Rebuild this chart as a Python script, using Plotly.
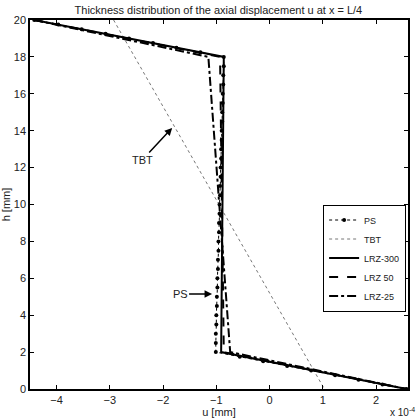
import plotly.graph_objects as go

# u values in units of 1e-4 mm, h in mm
ps_h = [20, 19.75, 19.5, 19.25, 19, 18.75, 18.5, 18.25, 18,
        17.5, 17, 16.5, 16, 15.5, 15, 14.5, 14, 13.5, 13, 12.5, 12, 11.5, 11, 10.5, 10,
        9.5, 9, 8.5, 8, 7.5, 7, 6.5, 6, 5.5, 5, 4.5, 4, 3.5, 3, 2.5, 2,
        1.75, 1.5, 1.25, 1, 0.75, 0.5, 0.25, 0]
ps_u = [-4.42, -3.97, -3.53, -3.08, -2.64, -2.19, -1.75, -1.30, -0.86,
        -0.86, -0.87, -0.87, -0.88, -0.88, -0.89, -0.89, -0.90, -0.90, -0.91, -0.91, -0.92, -0.92, -0.93, -0.93, -0.94,
        -0.94, -0.95, -0.95, -0.96, -0.96, -0.97, -0.97, -0.98, -0.98, -0.99, -0.99, -1.00, -1.00, -1.01, -1.01, -1.01,
        -0.56, -0.12, 0.33, 0.78, 1.23, 1.67, 2.12, 2.57]

tbt_h = [20, 0]
tbt_u = [-2.93, 1.03]

lrz_h = [20, 18, 2, 0]
lrz300_u = [-4.42, -0.86, -0.91, 2.57]
lrz50_u = [-4.42, -0.93, -0.86, 2.57]
lrz25_u = [-4.42, -1.15, -0.74, 2.57]

fig = go.Figure()
fig.add_trace(go.Scatter(x=ps_u, y=ps_h, name='PS', mode='lines+markers',
                         line=dict(color='black', width=1, dash='dot'),
                         marker=dict(color='black', size=4, symbol='circle')))
fig.add_trace(go.Scatter(x=tbt_u, y=tbt_h, name='TBT', mode='lines',
                         line=dict(color='#777777', width=1, dash='dot')))
fig.add_trace(go.Scatter(x=lrz300_u, y=lrz_h, name='LRZ-300', mode='lines',
                         line=dict(color='black', width=2)))
fig.add_trace(go.Scatter(x=lrz50_u, y=lrz_h, name='LRZ 50', mode='lines',
                         line=dict(color='black', width=2, dash='dash')))
fig.add_trace(go.Scatter(x=lrz25_u, y=lrz_h, name='LRZ-25', mode='lines',
                         line=dict(color='black', width=2, dash='dashdot')))

fig.update_layout(
    width=420, height=420,
    paper_bgcolor='white', plot_bgcolor='white',
    font=dict(family='Liberation Sans, Arial, sans-serif', size=11, color='#222'),
    margin=dict(l=30, r=12, t=20, b=31),
    title=dict(text='Thickness distribution of the axial displacement u at x = L/4',
               x=0.52, xanchor='center', y=0.976, yanchor='middle', yref='container',
               font=dict(size=11, color='#222')),
    showlegend=True,
    legend=dict(x=0.995, xanchor='right', y=0.5, yanchor='top',
                bgcolor='white', bordercolor='black', borderwidth=1,
                font=dict(size=9), tracegroupgap=0, itemwidth=30),
    annotations=[
        dict(x=-1.83, y=14.15, text='TBT', showarrow=True, ax=-30, ay=32,
             arrowhead=2, arrowsize=1, arrowwidth=1.5, arrowcolor='black',
             font=dict(size=11)),
        dict(x=-1.08, y=5.15, text='PS', showarrow=True, ax=-32, ay=0,
             arrowhead=2, arrowsize=1, arrowwidth=1.5, arrowcolor='black',
             font=dict(size=11)),
        dict(x=1.025, y=-0.084, xref='paper', yref='paper', xanchor='right', yanchor='bottom',
             text='x 10<sup>-4</sup>', showarrow=False, font=dict(size=10)),
    ],
)
fig.update_xaxes(range=[-4.5, 2.6], tickvals=[-4, -3, -2, -1, 0, 1, 2], automargin=False,
                 showline=True, linecolor='black', linewidth=1.5, mirror='ticks',
                 ticks='inside', ticklen=4, tickcolor='black', showgrid=False, zeroline=False,
                 title=dict(text='u [mm]', standoff=2, font=dict(size=11)))
fig.update_yaxes(range=[0, 20], tickvals=list(range(0, 21, 2)), automargin=False,
                 showline=True, linecolor='black', linewidth=1.5, mirror='ticks',
                 ticks='inside', ticklen=4, tickcolor='black', showgrid=False, zeroline=False,
                 title=dict(text='h [mm]', standoff=2, font=dict(size=11)))

fig.write_html("out.html", config={'displayModeBar': False},
               post_script="document.body.style.margin='0';")
